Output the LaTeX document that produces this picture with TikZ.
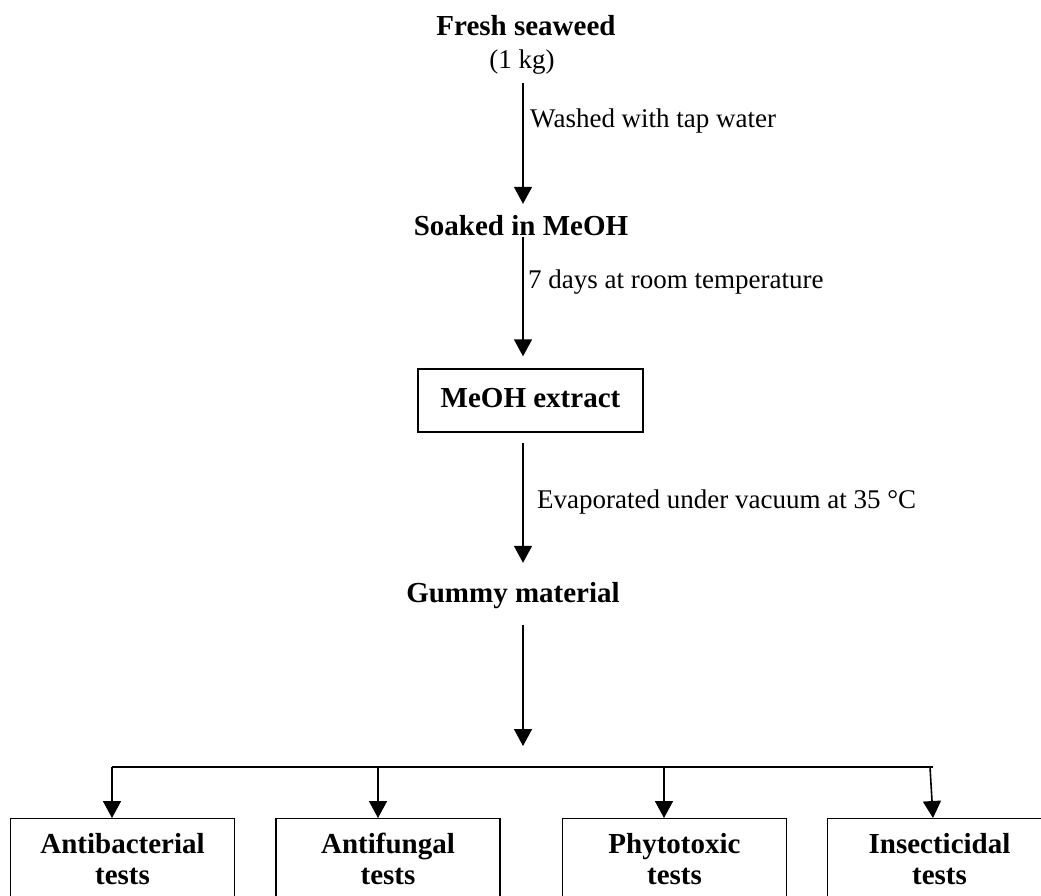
\documentclass[tikz,border=0pt]{standalone}
\usepackage{fontspec}
\setmainfont{Liberation Serif}
\usetikzlibrary{arrows.meta}
\newcommand\tstrut{\rule{0pt}{21pt}}
\begin{document}
\begin{tikzpicture}[x=1pt,y=-1pt,
  lbl/.style={inner sep=0pt,text height=20pt,text depth=6pt,font=\fontsize{27}{31}\selectfont},
  bl/.style={inner sep=0pt,text height=20pt,text depth=6pt,font=\fontsize{29}{31}\selectfont\bfseries},
  arr/.style={line width=1.6pt,-{Triangle[width=18pt,length=17pt]}},
  testbox/.style={draw,line width=1.4pt,anchor=north,align=center,
    text width=196pt,inner xsep=14pt,inner ysep=14pt,
    font=\fontsize{29}{31}\selectfont\bfseries},
  ebox/.style={draw,line width=1.4pt,minimum width=225pt,minimum height=63pt,
    inner sep=0pt,text height=20pt,text depth=6pt,
    font=\fontsize{29}{31}\selectfont\bfseries}]
\clip (0,0) rectangle (1041,895);
\useasboundingbox (0,0) rectangle (1041,895);
% nodes
\node[bl,anchor=base] (fs) at (526,35) {Fresh seaweed};
\node[lbl,anchor=base] (kg) at (522,68) {(1 kg)};
\node[bl,anchor=base,text depth=0pt] (soak) at (521,235) {Soaked in MeOH};
\node[ebox] (ext) at (530.5,400.5) {MeOH extract};
\node[bl,anchor=base] (gum) at (513,602) {Gummy material};
\node[testbox] (t1) at (122.5,818) {\tstrut Antibacterial\\tests};
\node[testbox] (t2) at (388,818) {\tstrut Antifungal\\tests};
\node[testbox] (t3) at (674.5,818) {\tstrut Phytotoxic\\tests};
\node[testbox] (t4) at (939.5,818) {\tstrut Insecticidal\\tests};
% step labels
\node[lbl,anchor=base west] (l1) at (530,127) {Washed with tap water};
\node[lbl,anchor=base west] (l2) at (528,288) {7 days at room temperature};
\node[lbl,anchor=base west] (l3) at (537,508) {Evaporated under vacuum at 35 °C};
% coordinates
\coordinate (ax) at (523,0);
\coordinate (g4) at (523,746);
\coordinate (hl) at (112,767);
\coordinate (hr) at (933,767);
\coordinate (b1) at (112,767);
\coordinate (b2) at (378,767);
\coordinate (b3) at (664,767);
\coordinate (b4) at (930,767);
% main arrows
\draw[arr,shorten <=9pt,shorten >=11pt] (kg.south -| ax) -- (soak.north -| ax);
\draw[arr,shorten <=2pt,shorten >=12pt] (soak.south -| ax) -- (ext.north -| ax);
\draw[arr,shorten <=10pt,shorten >=19pt] (ext.south -| ax) -- (gum.north -| ax);
\draw[arr,shorten <=17pt] (gum.south -| ax) -- (g4);
% branch
\draw[line width=1.6pt] (hl) -- (hr);
\draw[arr] (b1) -- (b1 |- t1.north);
\draw[arr] (b2) -- (b2 |- t2.north);
\draw[arr] (b3) -- (b3 |- t3.north);
\draw[arr] (b4) -- ([xshift=3pt]b4 |- t4.north);
\end{tikzpicture}
\end{document}
